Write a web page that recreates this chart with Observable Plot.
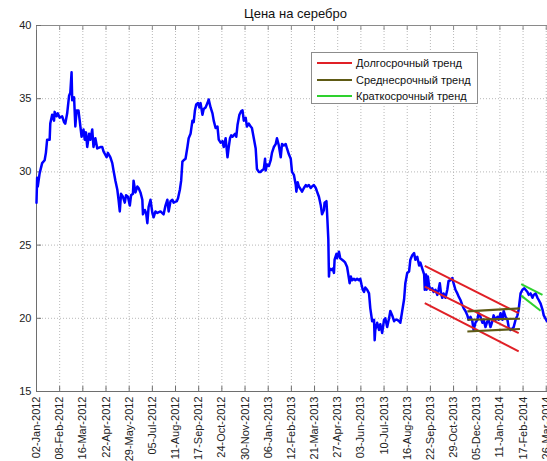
<!DOCTYPE html>
<html><head><meta charset="utf-8">
<script src="https://cdn.jsdelivr.net/npm/d3@7"></script>
<script src="https://cdn.jsdelivr.net/npm/@observablehq/plot@0.6"></script>
<style>
html,body{margin:0;padding:0;background:#fff;overflow:hidden;}
#wrap{position:relative;width:547px;height:461px;overflow:hidden;font-family:"Liberation Sans",Arial,sans-serif;}
#legend{position:absolute;left:311px;top:52px;width:167px;height:52px;border:1px solid #8c8c8c;background:#fff;box-sizing:border-box;}
.row{position:absolute;left:5px;height:14px;display:flex;align-items:center;font-size:11px;color:#111;white-space:nowrap;}
.sw{width:35px;height:0;border-top:2px solid;margin-right:4px;}
</style></head><body><div id="wrap"><div id="legend"></div></div>
<script>
const title = "Цена на серебро";
const xDomain = ["2012-01-02", "2014-03-28"];
const yTicks = [15, 20, 25, 30, 35, 40];
const tickDates = ["2012-01-02","2012-02-08","2012-03-16","2012-04-22","2012-05-29","2012-07-05","2012-08-11","2012-09-17","2012-10-24","2012-11-30","2013-01-06","2013-02-12","2013-03-21","2013-04-27","2013-06-03","2013-07-10","2013-08-16","2013-09-22","2013-10-29","2013-12-05","2014-01-11","2014-02-17","2014-03-26"];

const dates = [
"2012-01-02","2012-01-03","2012-01-04","2012-01-07","2012-01-11","2012-01-15","2012-01-17","2012-01-19","2012-01-23","2012-01-24","2012-01-27","2012-01-30","2012-01-31",
"2012-02-03","2012-02-05","2012-02-08","2012-02-12","2012-02-15","2012-02-17","2012-02-20","2012-02-23","2012-02-25","2012-02-27","2012-02-28",
"2012-03-02","2012-03-04","2012-03-06","2012-03-09","2012-03-11","2012-03-14","2012-03-17","2012-03-19","2012-03-21","2012-03-23","2012-03-26","2012-03-28","2012-03-31",
"2012-04-02","2012-04-05","2012-04-08","2012-04-13","2012-04-16","2012-04-18","2012-04-23","2012-04-25","2012-04-29",
"2012-05-02","2012-05-04","2012-05-07","2012-05-10","2012-05-12","2012-05-14","2012-05-16","2012-05-19","2012-05-22","2012-05-24","2012-05-27","2012-05-30",
"2012-06-01","2012-06-04","2012-06-05","2012-06-08","2012-06-11","2012-06-13","2012-06-16","2012-06-19","2012-06-20","2012-06-23","2012-06-25","2012-06-27","2012-06-29",
"2012-07-02","2012-07-05","2012-07-07","2012-07-10","2012-07-13","2012-07-18","2012-07-23","2012-07-26","2012-07-29","2012-07-31",
"2012-08-03","2012-08-06","2012-08-08","2012-08-13","2012-08-15","2012-08-18","2012-08-20","2012-08-22","2012-08-24","2012-08-27","2012-08-30",
"2012-09-01","2012-09-04","2012-09-07","2012-09-09","2012-09-11","2012-09-13","2012-09-16","2012-09-18","2012-09-20","2012-09-23","2012-09-25","2012-09-28",
"2012-10-01","2012-10-03","2012-10-06","2012-10-09","2012-10-11","2012-10-14","2012-10-17","2012-10-19","2012-10-22","2012-10-25","2012-10-27","2012-10-30",
"2012-11-02","2012-11-04","2012-11-06","2012-11-08","2012-11-10","2012-11-14","2012-11-16","2012-11-18","2012-11-21","2012-11-24","2012-11-26","2012-11-28",
"2012-12-01","2012-12-03","2012-12-06","2012-12-09","2012-12-11","2012-12-14","2012-12-17","2012-12-19","2012-12-22","2012-12-25","2012-12-27","2012-12-30",
"2013-01-01","2013-01-02","2013-01-04","2013-01-07","2013-01-10","2013-01-12","2013-01-15","2013-01-18","2013-01-20","2013-01-23","2013-01-26","2013-01-28","2013-01-31",
"2013-02-03","2013-02-05","2013-02-08","2013-02-11","2013-02-13","2013-02-16","2013-02-19","2013-02-20","2013-02-22","2013-02-24","2013-02-27",
"2013-03-01","2013-03-04","2013-03-07","2013-03-09","2013-03-12","2013-03-15","2013-03-17","2013-03-20","2013-03-23","2013-03-25","2013-03-28","2013-03-31",
"2013-04-02","2013-04-05","2013-04-06","2013-04-09","2013-04-10","2013-04-12","2013-04-13","2013-04-14","2013-04-17","2013-04-19","2013-04-21","2013-04-22","2013-04-25","2013-04-26","2013-04-29",
"2013-05-01","2013-05-04","2013-05-07","2013-05-09","2013-05-12","2013-05-15","2013-05-16","2013-05-18","2013-05-20","2013-05-23","2013-05-25","2013-05-28","2013-05-31",
"2013-06-02","2013-06-04","2013-06-06","2013-06-08","2013-06-10","2013-06-13","2013-06-16","2013-06-18","2013-06-21","2013-06-24","2013-06-25","2013-06-26","2013-06-29",
"2013-07-02","2013-07-04","2013-07-07","2013-07-10","2013-07-12","2013-07-15","2013-07-18","2013-07-20","2013-07-23","2013-07-26","2013-07-28","2013-07-31",
"2013-08-03","2013-08-05","2013-08-08","2013-08-11","2013-08-13","2013-08-16","2013-08-19","2013-08-21","2013-08-24","2013-08-27","2013-08-29",
"2013-09-01","2013-09-04","2013-09-06","2013-09-09","2013-09-12","2013-09-13","2013-09-15","2013-09-16","2013-09-18","2013-09-20","2013-09-22","2013-09-25","2013-09-27","2013-09-30",
"2013-10-03","2013-10-05","2013-10-07","2013-10-09","2013-10-11","2013-10-13","2013-10-16","2013-10-19","2013-10-21","2013-10-24","2013-10-27","2013-10-29",
"2013-11-01","2013-11-04","2013-11-06","2013-11-09","2013-11-12","2013-11-14","2013-11-17","2013-11-20","2013-11-22","2013-11-25","2013-11-28","2013-11-30",
"2013-12-03","2013-12-06","2013-12-08","2013-12-11","2013-12-14","2013-12-16","2013-12-19","2013-12-22","2013-12-24","2013-12-27","2013-12-30",
"2014-01-01","2014-01-04","2014-01-07","2014-01-09","2014-01-12","2014-01-15","2014-01-17","2014-01-20","2014-01-23","2014-01-25","2014-01-28","2014-01-31",
"2014-02-02","2014-02-05","2014-02-08","2014-02-10","2014-02-13","2014-02-16","2014-02-19","2014-02-21","2014-02-24","2014-02-26",
"2014-03-01","2014-03-04","2014-03-06","2014-03-09","2014-03-12","2014-03-14","2014-03-17","2014-03-20","2014-03-22","2014-03-27"
];
const prices = [
27.9,29.6,29.0,29.9,30.6,30.8,31.3,32.2,32.2,33.3,33.9,33.5,34.1,
33.8,34.0,33.7,33.8,33.4,33.3,34.0,35.2,35.4,36.8,34.9,
35.1,33.1,34.2,34.2,33.5,32.4,32.9,32.2,32.7,31.7,32.6,32.2,32.9,
31.7,32.3,31.6,31.7,31.7,31.4,31.0,31.3,31.0,
30.6,30.1,29.4,28.8,28.1,27.3,28.5,28.3,27.9,28.4,28.3,27.7,
28.4,28.5,29.4,28.6,29.0,28.9,28.6,28.1,27.1,27.4,27.2,26.5,27.6,
28.1,27.2,26.9,27.3,27.2,27.3,27.1,27.7,28.1,27.3,
28.0,28.1,27.9,28.0,28.2,28.8,29.4,30.7,30.8,30.9,31.7,
32.3,32.6,33.5,33.4,34.2,34.6,34.7,34.4,34.7,33.9,34.3,34.4,
34.7,34.95,34.4,34.0,33.5,33.0,33.1,32.2,32.0,32.1,31.7,32.3,
31.0,31.7,32.3,32.5,32.4,32.6,32.4,33.2,33.9,34.15,34.2,33.5,
33.7,33.1,33.3,33.1,33.0,32.3,31.6,30.2,30.0,30.0,30.1,30.2,
30.9,30.1,30.5,30.4,30.8,31.3,31.7,31.9,32.3,31.8,31.0,31.9,31.8,
31.9,31.6,31.2,30.9,30.0,29.8,29.1,28.65,29.3,29.0,28.8,
28.65,28.9,29.1,29.0,29.1,28.9,29.0,29.1,28.9,28.65,28.3,27.7,
27.1,27.4,27.9,28.0,27.2,25.4,22.85,23.4,23.3,23.4,23.1,24.0,24.4,24.1,24.55,
24.1,24.0,23.9,23.8,23.5,22.7,22.4,22.85,22.6,22.7,22.6,22.7,22.6,
22.7,22.3,21.95,21.8,22.1,21.95,21.7,20.7,19.8,19.9,18.5,19.2,19.7,
19.2,19.6,19.0,19.9,20.0,19.4,20.0,20.5,20.2,19.8,19.9,19.9,
19.8,19.7,20.5,21.3,22.4,23.1,23.2,24.0,24.3,24.45,24.0,
24.2,23.6,23.8,23.4,23.0,21.95,23.0,21.95,22.85,22.2,21.95,22.05,21.8,21.95,
21.6,21.95,22.4,21.7,21.4,21.7,21.4,21.95,22.55,22.6,22.75,22.4,
21.95,21.7,21.5,21.25,20.9,20.7,20.5,20.2,19.9,20.1,19.8,19.2,
19.7,19.9,20.35,20.1,19.7,19.9,19.4,19.8,19.9,19.4,19.8,
20.2,19.9,20.1,19.9,20.35,19.9,20.5,20.1,19.9,19.4,19.2,19.3,
19.4,19.9,20.2,20.6,21.7,21.95,22.05,21.95,21.8,21.6,
21.7,21.4,21.6,21.7,21.4,21.25,21.0,20.6,20.2,19.8
];

// trend channels: start date, start value, end date, end value
const longStart = ["2013-09-13","2013-09-13","2013-09-13"];
const longStartVal = [23.58, 22.17, 21.04];
const longEnd = ["2014-02-10","2014-02-10","2014-02-10"];
const longEndVal = [20.35, 18.99, 17.74];
const midStart = ["2013-11-20","2013-11-20","2013-11-20"];
const midStartVal = [20.47, 19.9, 19.1];
const midEnd = ["2014-02-12","2014-02-12","2014-02-12"];
const midEndVal = [20.68, 19.97, 19.27];
const shortStart = ["2014-02-14","2014-02-14"];
const shortStartVal = [22.33, 21.55];
const shortEnd = ["2014-03-20","2014-03-17"];
const shortEndVal = [21.6, 20.52];

const legendLabels = ["Долгосрочный тренд", "Среднесрочный тренд", "Краткосрочный тренд"];
const colors = {long: "#e02026", mid: "#5e5a14", short: "#2ed12e", price: "#0000ff"};

const parse = d3.utcParse("%Y-%m-%d");
const series = dates.map((d, i) => ({date: parse(d), price: prices[i]}));
const xTicks = tickDates.map(parse);
const fmt = d3.utcFormat("%d-%b-%Y");
const seg = (s, sv, e, ev) => s.map((d, i) => ({x1: parse(d), y1: sv[i], x2: parse(e[i]), y2: ev[i]}));
const longT = seg(longStart, longStartVal, longEnd, longEndVal);
const midT = seg(midStart, midStartVal, midEnd, midEndVal);
const shortT = seg(shortStart, shortStartVal, shortEnd, shortEndVal);
const gridY = yTicks.filter(v => v > 15 && v < 40);

const chart = Plot.plot({
  width: 547, height: 461,
  marginLeft: 36, marginRight: 0, marginTop: 25, marginBottom: 70,
  style: {fontFamily: "Liberation Sans, Arial, sans-serif", fontSize: "11px", color: "#222", background: "#fff", overflow: "hidden"},
  x: {type: "utc", domain: xDomain.map(parse)},
  y: {domain: [15, 40]},
  marks: [
    Plot.ruleX(xTicks.slice(1), {stroke: "#b8b8b8", strokeDasharray: "1,2"}),
    Plot.ruleY(gridY, {stroke: "#b8b8b8", strokeDasharray: "1,2"}),
    Plot.ruleY([40], {stroke: "#8a8a8a"}),
    Plot.ruleY([15], {stroke: "#6e6e6e"}),
    Plot.ruleX([parse(xDomain[0])], {stroke: "#6e6e6e"}),
    Plot.ruleX(xTicks, {insetTop: 361, stroke: "#6e6e6e"}),
    Plot.ruleX(xTicks, {insetBottom: 361, stroke: "#8a8a8a"}),
    Plot.ruleY(yTicks, {insetRight: 506, stroke: "#6e6e6e"}),
    Plot.axisX({ticks: xTicks, tickFormat: fmt, tickRotate: -90, tickSize: 0, tickPadding: 5, label: null, fill: "#222"}),
    Plot.axisY({ticks: yTicks, tickSize: 0, tickPadding: 5, label: null, fill: "#222"}),
    Plot.line(series, {x: "date", y: "price", stroke: colors.price, strokeWidth: 2.5}),
    Plot.link(longT, {x1: "x1", y1: "y1", x2: "x2", y2: "y2", stroke: colors.long, strokeWidth: 2}),
    Plot.link(midT, {x1: "x1", y1: "y1", x2: "x2", y2: "y2", stroke: colors.mid, strokeWidth: 2.2}),
    Plot.link(shortT, {x1: "x1", y1: "y1", x2: "x2", y2: "y2", stroke: colors.short, strokeWidth: 2}),
    Plot.text([title], {text: d => d, frameAnchor: "top", lineAnchor: "bottom", dy: -8, dx: 3.5, fontSize: 13, fill: "#111"})
  ]
});
const wrap = document.getElementById("wrap");
wrap.insertBefore(chart, wrap.firstChild);

const legend = document.getElementById("legend");
const legendColors = [colors.long, colors.mid, colors.short];
const rowTops = [2.5, 19.5, 35.5];
legendLabels.forEach((lab, i) => {
  const row = document.createElement("div");
  row.className = "row";
  row.style.top = rowTops[i] + "px";
  const sw = document.createElement("span");
  sw.className = "sw";
  sw.style.borderTopColor = legendColors[i];
  const t = document.createElement("span");
  t.textContent = lab;
  row.appendChild(sw); row.appendChild(t);
  legend.appendChild(row);
});
</script></body></html>
